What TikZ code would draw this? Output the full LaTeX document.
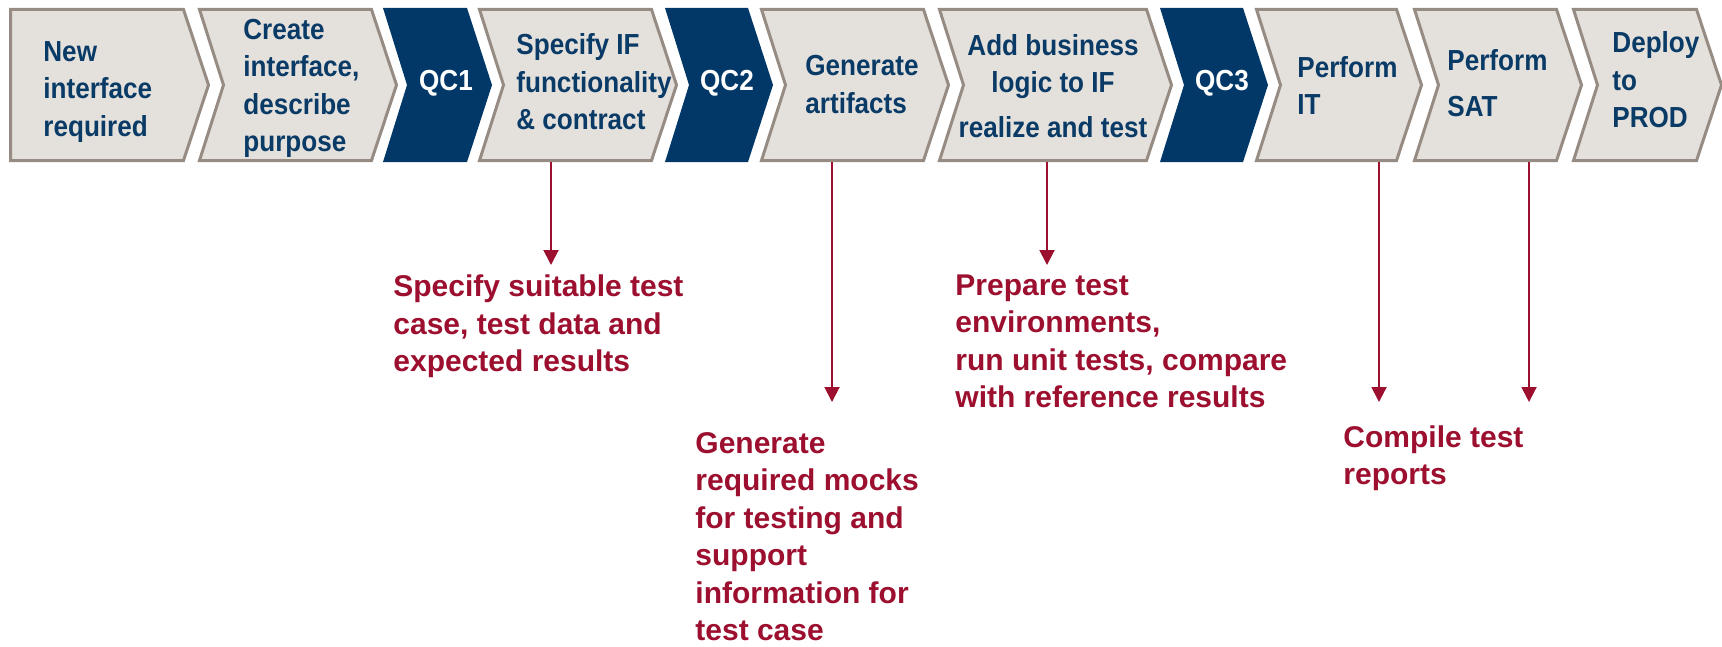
\documentclass[tikz,border=0pt]{standalone}
\usepackage{fontspec}
\setmainfont{Liberation Sans}
\newfontfamily\stepfont{Liberation Sans}[FakeStretch=0.9]
\usetikzlibrary{arrows.meta}

\definecolor{stepfill}{HTML}{E4E1DD}
\definecolor{stepline}{HTML}{968C83}
\definecolor{gatefill}{HTML}{023868}
\definecolor{steptext}{HTML}{0A3A66}
\definecolor{notered}{HTML}{9C0F2E}

% outlined process step: left x, right x (flat top/bottom, notch on the left, point on the right)
\newcommand\stepchevron[2]{%
  \path[stepshape] (#1+1.5,9.5) -- (#2-1.5,9.5) -- (#2+23.5,85) -- (#2-1.5,160.5)
    -- (#1+1.5,160.5) -- (#1+25.5,85) -- cycle;}
% quality gate: solid dark chevron
\newcommand\gatechevron[2]{%
  \path[gateshape] (#1,8) -- (#2,8) -- (#2+25,85) -- (#2,162) -- (#1,162) -- (#1+24,85) -- cycle;}

\tikzset{
  stepshape/.style={fill=stepfill, draw=stepline, line width=1.5pt, line join=miter},
  gateshape/.style={fill=gatefill},
  steplabel/.style={font=\stepfont\bfseries\fontsize{14.5}{18.75}\selectfont, text=steptext,
    inner sep=0pt, align=left, anchor=west},
  gatelabel/.style={font=\stepfont\bfseries\fontsize{14.5}{18.75}\selectfont, text=white,
    inner sep=0pt},
  notelabel/.style={font=\bfseries\fontsize{15}{18.75}\selectfont, text=notered,
    inner sep=0pt, align=left, anchor=west},
  notearrow/.style={draw=notered, line width=1pt, -{Triangle[length=7.5pt,width=7.5pt]}},
}

\begin{document}
\begin{tikzpicture}[x=0.5pt,y=-0.5pt]
\useasboundingbox (0,0) rectangle (1722,647);

% ---- process chevrons ----
\path[stepshape] (10.5,9.5) -- (183.5,9.5) -- (208.5,85) -- (183.5,160.5) -- (10.5,160.5) -- cycle;
\stepchevron{198}{373}
\gatechevron{383}{467}
\stepchevron{478}{653}
\gatechevron{665}{748}
\stepchevron{760}{925}
\stepchevron{938}{1148}
\gatechevron{1160}{1243}
\stepchevron{1255}{1398}
\stepchevron{1413}{1558}
\stepchevron{1572}{1698}

% ---- step labels ----
\node[steplabel] (newif)    at (43,92)    {New\\interface\\required};
\node[steplabel] (create)   at (243,88.5) {Create\\interface,\\describe\\purpose};
\node[gatelabel] (qc1)      at (446,83)   {QC1};
\node[steplabel] (specify)  at (516,82)   {Specify IF\\functionality\\\& contract};
\node[gatelabel] (qc2)      at (727,83)   {QC2};
\node[steplabel] (generate) at (805,84.5) {Generate\\artifacts};
\node[steplabel, align=center, anchor=center] (addlogic) at (1053,86)
  {Add business\\logic to IF\\[3.5pt]realize and test};
\node[gatelabel] (qc3)      at (1222,83)  {QC3};
\node[steplabel] (perfit)   at (1297,85.5) {Perform\\IT};
\node[steplabel] (perfsat)  at (1447,83.5) {Perform\\[4.25pt]SAT};
\node[steplabel] (deploy)   at (1612,80)  {Deploy\\to\\PROD};

% ---- testing activities ----
\node[notelabel] (testcase) at (393,326.5)
  {Specify suitable test\\case, test data and\\expected results};
\node[notelabel] (mocks) at (695,536.5)
  {Generate\\required mocks\\for testing and\\support\\information for\\test case};
\node[notelabel] (unittest) at (955,341.5)
  {Prepare test\\environments,\\run unit tests, compare\\with reference results};
\node[notelabel] (reports) at (1343,458)
  {Compile test\\reports};

% ---- arrow anchors ----
\coordinate (s1) at (551,162);  \coordinate (e1) at (551,265);
\coordinate (s2) at (832,162);  \coordinate (e2) at (832,402);
\coordinate (s3) at (1047,162); \coordinate (e3) at (1047,265);
\coordinate (s4) at (1379,162); \coordinate (e4) at (1379,402);
\coordinate (s5) at (1529,162); \coordinate (e5) at (1529,402);

\draw[notearrow] (s1) -- (e1);
\draw[notearrow] (s2) -- (e2);
\draw[notearrow] (s3) -- (e3);
\draw[notearrow] (s4) -- (e4);
\draw[notearrow] (s5) -- (e5);
\end{tikzpicture}
\end{document}
